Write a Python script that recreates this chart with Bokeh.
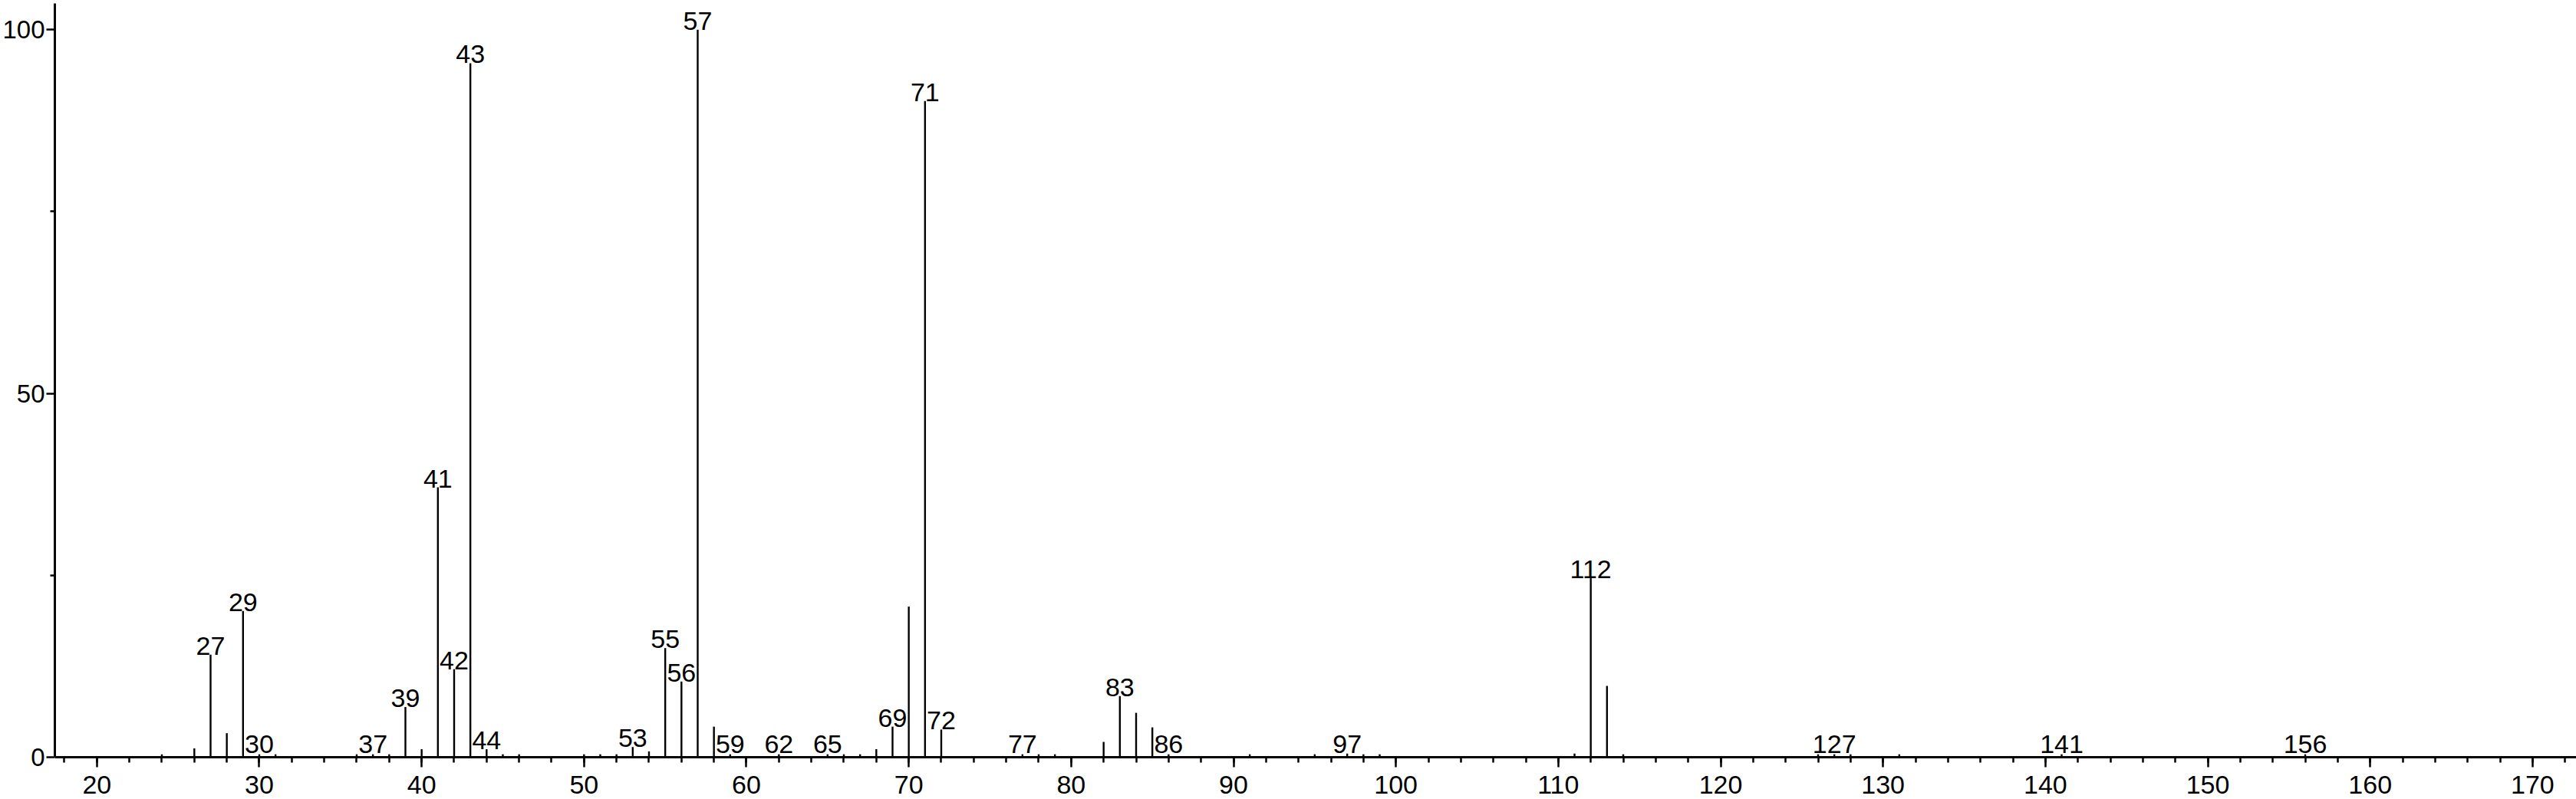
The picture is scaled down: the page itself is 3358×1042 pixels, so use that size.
from bokeh.plotting import figure
from bokeh.models import Range1d, SingleIntervalTicker, FixedTicker, ColumnDataSource
from bokeh.core.properties import value
from bokeh.embed import file_html
from bokeh.resources import INLINE

# m/z values and relative intensities (%)
mz = [24, 26, 27, 28, 29, 30, 31, 36, 37, 38, 39, 40, 41, 42, 43, 44, 45, 46,
      50, 51, 52, 53, 54, 55, 56, 57, 58, 59, 62, 65, 66, 67, 68, 69, 70, 71, 72,
      77, 78, 79, 82, 83, 84, 85, 86, 91, 95, 97, 98, 99,
      111, 112, 113, 114, 126, 127, 128, 131, 141, 156]
intensity = [0.4, 1.2, 14.1, 3.3, 20.1, 0.4, 0.4, 0.4, 0.4, 0.4, 6.9, 1.1, 37.1, 12.1, 95.4, 1.1, 0.4, 0.4,
             0.4, 0.4, 0.4, 1.4, 0.8, 15.0, 10.4, 100.0, 4.2, 0.4, 0.4, 0.4, 0.4, 0.4, 1.1, 4.2, 20.7, 90.2, 3.8,
             0.4, 0.4, 0.4, 2.1, 8.4, 6.1, 4.1, 0.4, 0.4, 0.4, 0.5, 0.4, 0.4,
             0.5, 24.6, 9.8, 0.4, 0.4, 0.4, 0.4, 0.4, 0.4, 0.4]

# peaks that carry a m/z label
labeled_mz = [27, 29, 30, 37, 39, 41, 42, 43, 44, 53, 55, 56, 57, 59, 62, 65,
              69, 71, 72, 77, 83, 86, 97, 112, 127, 141, 156]

x_major_interval = 10
y_ticks = [0, 50, 100]
y_minor_ticks = [25, 75]
y_top = 104.04

FONT = "Liberation Sans"

lookup = dict(zip(mz, intensity))
label_y = [max(lookup[m], 0.55) for m in labeled_mz]
label_text = [str(m) for m in labeled_mz]

p = figure(width=3358, height=1042, output_backend="svg", toolbar_location=None,
           x_range=Range1d(17.41, 172.70), y_range=Range1d(-5.80, y_top),
           min_border_left=69, min_border_right=0, min_border_top=0, min_border_bottom=0)
p.outline_line_color = None
p.background_fill_color = "white"
p.border_fill_color = "white"
p.xgrid.visible = False
p.ygrid.visible = False

src = ColumnDataSource(dict(x=mz, y0=[0] * len(mz), y1=intensity))
p.segment(x0="x", y0="y0", x1="x", y1="y1", source=src, line_color="black", line_width=2.4)

lsrc = ColumnDataSource(dict(x=labeled_mz, y=label_y, t=label_text))
p.text(x="x", y="y", text="t", source=lsrc, text_font=value(FONT), text_font_size="34px",
       text_align="center", text_baseline="bottom", text_color="black")

xa = p.xaxis[0]
xa.fixed_location = 0
xa.ticker = SingleIntervalTicker(interval=x_major_interval, num_minor_ticks=5)
xa.axis_line_width = 3
xa.axis_line_color = "black"
xa.major_tick_in = 0
xa.major_tick_out = 13
xa.minor_tick_in = 0
xa.minor_tick_out = 7
xa.major_tick_line_width = 2.5
xa.minor_tick_line_width = 2.5
xa.major_label_text_font = FONT
xa.major_label_text_font_size = "34px"
xa.major_label_text_color = "black"
xa.major_label_standoff = 12

ya = p.yaxis[0]
ya.bounds = (0, 103.6)
ya.ticker = FixedTicker(ticks=y_ticks, minor_ticks=y_minor_ticks)
ya.axis_line_width = 3
ya.axis_line_color = "black"
ya.major_tick_in = 0
ya.major_tick_out = 11
ya.minor_tick_in = 0
ya.minor_tick_out = 6
ya.major_tick_line_width = 2.5
ya.minor_tick_line_width = 2.5
ya.major_label_text_font = FONT
ya.major_label_text_font_size = "33px"
ya.major_label_text_color = "black"
ya.major_label_standoff = 2

open("out.html", "w").write(file_html(p, INLINE))
